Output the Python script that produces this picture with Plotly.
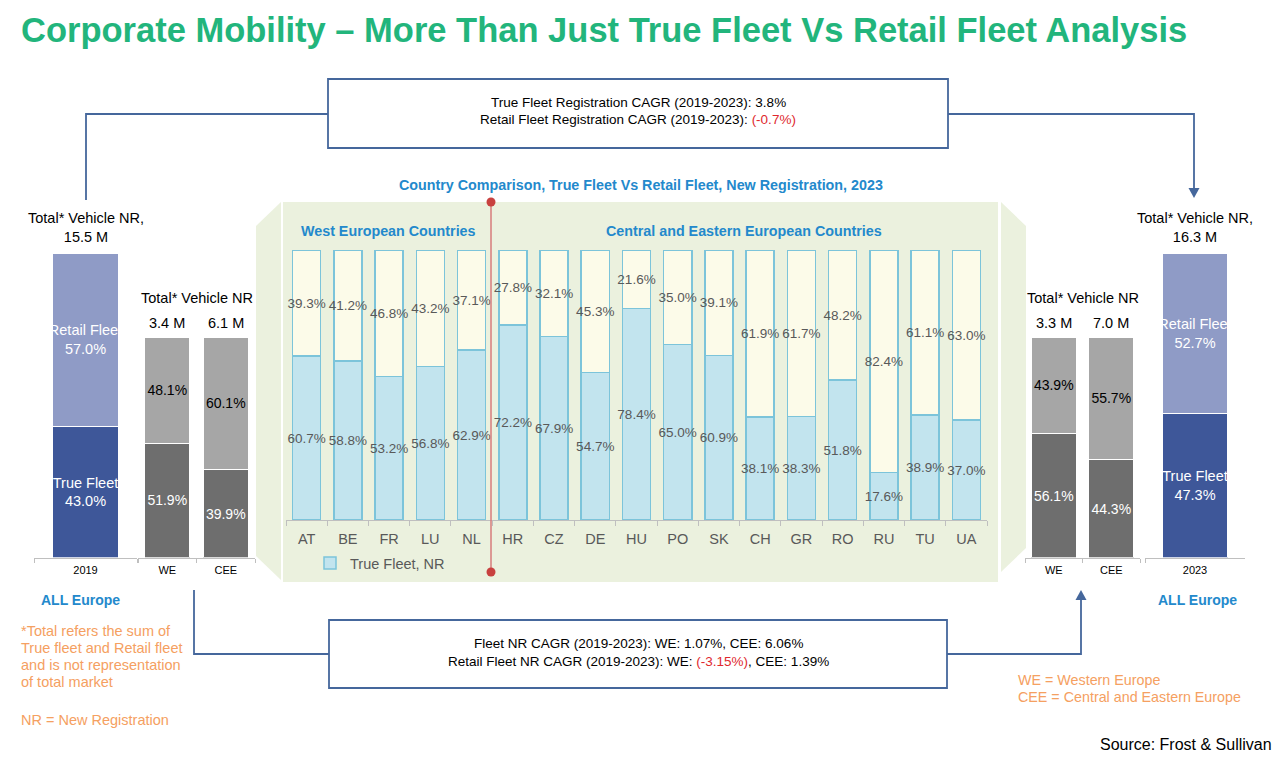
import plotly.graph_objects as go

# page offset: the browser body has an 8px margin, so the figure is drawn 8px in
OFF = 8
W, H = 1280 - OFF, 763 - OFF
def fx(p): return (p - OFF) / W
def fy(p): return 1 - (p - OFF) / H

# ---------------- data ----------------
countries = ["AT", "BE", "FR", "LU", "NL", "HR", "CZ", "DE", "HU", "PO", "SK",
             "CH", "GR", "RO", "RU", "TU", "UA"]
true_fleet_2023 = [60.7, 58.8, 53.2, 56.8, 62.9, 72.2, 67.9, 54.7, 78.4, 65.0, 60.9,
                   38.1, 38.3, 51.8, 17.6, 38.9, 37.0]
retail_fleet_2023 = [39.3, 41.2, 46.8, 43.2, 37.1, 27.8, 32.1, 45.3, 21.6, 35.0, 39.1,
                     61.9, 61.7, 48.2, 82.4, 61.1, 63.0]

europe_2019_cat = ["2019"]
europe_2019_true = [43.0]
europe_2019_retail = [57.0]
europe_2019_total = "15.5 M"

europe_2023_cat = ["2023"]
europe_2023_true = [47.3]
europe_2023_retail = [52.7]
europe_2023_total = "16.3 M"

regions = ["WE", "CEE"]
region_2019_true = [51.9, 39.9]
region_2019_retail = [48.1, 60.1]
region_2019_total = ["3.4 M", "6.1 M"]
region_2023_true = [56.1, 44.3]
region_2023_retail = [43.9, 55.7]
region_2023_total = ["3.3 M", "7.0 M"]

FONT = "Liberation Sans, Arial, sans-serif"
BLUE_TXT = "#2389cc"
ORANGE = "#f5a061"
LINE_BLUE = "#45679c"
GREEN_BG = "#ebf1de"
GRAY_AX = "#bfbfbf"

fig = go.Figure()

def pct(vals):
    return [f"{v:.1f}%" for v in vals]

common_bar = dict(textposition="inside", insidetextanchor="middle", constraintext="none",
                  textangle=0, hoverinfo="skip", cliponaxis=False)

# ---- 2019 all Europe ----
fig.add_trace(go.Bar(x=europe_2019_cat, y=europe_2019_true, width=0.64,
                     marker=dict(color="#3e5799", line=dict(color="white", width=1)),
                     text=[f"True Fleet<br>{v:.1f}%" for v in europe_2019_true],
                     textfont=dict(color="white", size=14.5, family=FONT),
                     xaxis="x", yaxis="y", showlegend=False, **common_bar))
fig.add_trace(go.Bar(x=europe_2019_cat, y=europe_2019_retail, width=0.64,
                     marker=dict(color="#8f9bc6", line=dict(color="white", width=1)),
                     text=[f"Retail Fleet<br>{v:.1f}%" for v in europe_2019_retail],
                     textfont=dict(color="white", size=14.5, family=FONT),
                     xaxis="x", yaxis="y", showlegend=False, **common_bar))

# ---- 2019 WE / CEE ----
fig.add_trace(go.Bar(x=regions, y=region_2019_true, width=0.77,
                     marker=dict(color="#6e6e6e", line=dict(color="white", width=1)),
                     text=pct(region_2019_true), textfont=dict(color="white", size=14, family=FONT),
                     xaxis="x2", yaxis="y2", showlegend=False, **common_bar))
fig.add_trace(go.Bar(x=regions, y=region_2019_retail, width=0.77,
                     marker=dict(color="#a6a6a6", line=dict(color="white", width=1)),
                     text=pct(region_2019_retail), textfont=dict(color="black", size=14, family=FONT),
                     xaxis="x2", yaxis="y2", showlegend=False, **common_bar))

# ---- country comparison ----
fig.add_trace(go.Bar(x=countries, y=true_fleet_2023, width=0.68, name="True Fleet, NR",
                     marker=dict(color="#c2e4ee", line=dict(color="#7cc4da", width=1.5)),
                     text=pct(true_fleet_2023), textfont=dict(color="#595959", size=13.5, family=FONT),
                     xaxis="x3", yaxis="y3", showlegend=True, **common_bar))
fig.add_trace(go.Bar(x=countries, y=retail_fleet_2023, width=0.68, name="Retail Fleet, NR",
                     marker=dict(color="#fcfbe9", line=dict(color="#7cc4da", width=1.5)),
                     text=pct(retail_fleet_2023), textfont=dict(color="#595959", size=13.5, family=FONT),
                     xaxis="x3", yaxis="y3", showlegend=False, **common_bar))

# ---- 2023 WE / CEE ----
fig.add_trace(go.Bar(x=regions, y=region_2023_true, width=0.78,
                     marker=dict(color="#6e6e6e", line=dict(color="white", width=1)),
                     text=pct(region_2023_true), textfont=dict(color="white", size=14, family=FONT),
                     xaxis="x4", yaxis="y4", showlegend=False, **common_bar))
fig.add_trace(go.Bar(x=regions, y=region_2023_retail, width=0.78,
                     marker=dict(color="#a6a6a6", line=dict(color="white", width=1)),
                     text=pct(region_2023_retail), textfont=dict(color="black", size=14, family=FONT),
                     xaxis="x4", yaxis="y4", showlegend=False, **common_bar))

# ---- 2023 all Europe ----
fig.add_trace(go.Bar(x=europe_2023_cat, y=europe_2023_true, width=0.65,
                     marker=dict(color="#3e5799", line=dict(color="white", width=1)),
                     text=[f"True Fleet<br>{v:.1f}%" for v in europe_2023_true],
                     textfont=dict(color="white", size=14.5, family=FONT),
                     xaxis="x5", yaxis="y5", showlegend=False, **common_bar))
fig.add_trace(go.Bar(x=europe_2023_cat, y=europe_2023_retail, width=0.65,
                     marker=dict(color="#8f9bc6", line=dict(color="white", width=1)),
                     text=[f"Retail Fleet<br>{v:.1f}%" for v in europe_2023_retail],
                     textfont=dict(color="white", size=14.5, family=FONT),
                     xaxis="x5", yaxis="y5", showlegend=False, **common_bar))

def xax(x0, x1, n, anchor, fsize, tcolor, ticklen=4, standoff=2):
    return dict(domain=[fx(x0), fx(x1)], anchor=anchor, type="category",
                range=[-0.5, n - 0.5], showline=True, linecolor=GRAY_AX, linewidth=1.2,
                ticks="outside", tickson="boundaries", ticklen=ticklen, tickcolor=GRAY_AX,
                ticklabelstandoff=standoff,
                showgrid=False, zeroline=False, fixedrange=True,
                tickfont=dict(size=fsize, color=tcolor, family=FONT))

def yax(ybot, ytop, anchor):
    return dict(domain=[fy(ybot), fy(ytop)], anchor=anchor, range=[0, 100], visible=False,
                showgrid=False, zeroline=False, fixedrange=True)

layout = dict(
    width=W, height=H, margin=dict(l=0, r=0, t=0, b=0),
    paper_bgcolor="white", plot_bgcolor="rgba(0,0,0,0)",
    barmode="stack", font=dict(family=FONT),
    xaxis=xax(34, 137, 1, "y", 11, "black"),
    yaxis=yax(557.5, 253, "x"),
    xaxis2=xax(138, 255, 2, "y2", 11, "black"),
    yaxis2=yax(557.5, 337, "x2"),
    xaxis3=xax(286, 987, 17, "y3", 14.5, "#595959", ticklen=5, standoff=5),
    yaxis3=yax(520, 250, "x3"),
    xaxis4=xax(1025, 1140, 2, "y4", 11, "black"),
    yaxis4=yax(557.5, 337, "x4"),
    xaxis5=xax(1145, 1245, 1, "y5", 11, "black"),
    yaxis5=yax(557.5, 253, "x5"),
    showlegend=True,
    legend=dict(x=fx(310), y=fy(563), xanchor="left", yanchor="middle",
                bgcolor="rgba(0,0,0,0)", font=dict(size=14.5, color="#595959", family=FONT),
                itemwidth=30),
)
fig.update_layout(**layout)

# ---------------- shapes ----------------
shapes = []
def path(pts):
    return "M " + " L ".join(f"{fx(x)},{fy(y)}" for x, y in pts) + " Z"
def open_path(pts):
    return "M " + " L ".join(f"{fx(x)},{fy(y)}" for x, y in pts)

shapes.append(dict(type="rect", xref="paper", yref="paper", x0=fx(283), x1=fx(998),
                   y0=fy(582), y1=fy(202), fillcolor=GREEN_BG, line=dict(width=0), layer="below"))
shapes.append(dict(type="path", xref="paper", yref="paper",
                   path=path([(256, 226), (281, 202), (281, 580), (256, 556)]),
                   fillcolor=GREEN_BG, line=dict(width=0), layer="below"))
shapes.append(dict(type="path", xref="paper", yref="paper",
                   path=path([(1001, 202), (1026, 226), (1026, 548), (1001, 572)]),
                   fillcolor=GREEN_BG, line=dict(width=0), layer="below"))
# red divider
shapes.append(dict(type="line", xref="paper", yref="paper", x0=fx(491), x1=fx(491),
                   y0=fy(202), y1=fy(572), line=dict(color="#d77b7b", width=1.5)))
for yy in (202, 572):
    shapes.append(dict(type="circle", xref="paper", yref="paper",
                       x0=fx(486.5), x1=fx(495.5), y0=fy(yy + 4.5), y1=fy(yy - 4.5),
                       fillcolor="#c8413f", line=dict(width=0)))
# boxes
for (x0, y0, x1, y1) in [(328, 79, 948, 148), (329, 620, 947, 688)]:
    shapes.append(dict(type="rect", xref="paper", yref="paper", x0=fx(x0), x1=fx(x1),
                       y0=fy(y1), y1=fy(y0), fillcolor="white",
                       line=dict(color=LINE_BLUE, width=1.8)))
# connectors
for pts in [[(328, 114), (86, 114), (86, 200)],
            [(948, 114), (1194, 114), (1194, 189)],
            [(194, 590), (194, 654), (329, 654)],
            [(947, 654), (1081, 654), (1081, 599)]]:
    shapes.append(dict(type="path", xref="paper", yref="paper", path=open_path(pts),
                       line=dict(color=LINE_BLUE, width=1.8)))
# arrowheads
shapes.append(dict(type="path", xref="paper", yref="paper",
                   path=path([(1188.5, 188), (1199.5, 188), (1194, 198)]),
                   fillcolor=LINE_BLUE, line=dict(width=0)))
shapes.append(dict(type="path", xref="paper", yref="paper",
                   path=path([(1075.5, 600), (1086.5, 600), (1081, 590)]),
                   fillcolor=LINE_BLUE, line=dict(width=0)))
fig.update_layout(shapes=shapes)

# ---------------- annotations ----------------
ann = []
def txt(text, x, y, size=14, color="black", bold=False, xanchor="center"):
    if bold:
        text = f"<b>{text}</b>"
    ann.append(dict(text=text, x=fx(x), y=fy(y), xref="paper", yref="paper",
                    xanchor=xanchor, yanchor="middle", showarrow=False,
                    font=dict(size=size, color=color, family=FONT)))

txt("Corporate Mobility \u2013 More Than Just True Fleet Vs Retail Fleet Analysis",
    19, 30, size=34.5, color="#22b57c", bold=True, xanchor="left")

txt("True Fleet Registration CAGR (2019-2023): 3.8%", 638, 102, size=13.5)
txt("Retail Fleet Registration CAGR (2019-2023): <span style='color:#e0282e'>(-0.7%)</span>",
    638, 119, size=13.5)
txt("Fleet NR CAGR (2019-2023): WE: 1.07%, CEE: 6.06%", 638, 643, size=13.5)
txt("Retail Fleet NR CAGR (2019-2023): WE: <span style='color:#e0282e'>(-3.15%)</span>, CEE: 1.39%",
    638, 661, size=13.5)

txt("Country Comparison, True Fleet Vs Retail Fleet, New Registration, 2023",
    641, 185, size=14.3, color=BLUE_TXT, bold=True)
txt("West European Countries", 388, 231, size=14.3, color=BLUE_TXT, bold=True)
txt("Central and Eastern European Countries", 744, 231, size=14.3, color=BLUE_TXT, bold=True)

# totals above bars
for xa, total in (("x", europe_2019_total), ("x5", europe_2023_total)):
    ann.append(dict(text=f"Total* Vehicle NR,<br>{total}", x=0.5, xref=f"{xa} domain",
                    y=fy(227), yref="paper", showarrow=False, yanchor="middle",
                    font=dict(size=14.5, color="black", family=FONT)))
for xa in ("x2", "x4"):
    ann.append(dict(text="Total* Vehicle NR", x=0.5, xref=f"{xa} domain", y=fy(298), yref="paper",
                    showarrow=False, yanchor="middle", font=dict(size=14.5, color="black", family=FONT)))
for r, t in zip(regions, region_2019_total):
    ann.append(dict(text=t, x=r, xref="x2", y=fy(323), yref="paper", showarrow=False,
                    yanchor="middle", font=dict(size=14.5, color="black", family=FONT)))
for r, t in zip(regions, region_2023_total):
    ann.append(dict(text=t, x=r, xref="x4", y=fy(323), yref="paper", showarrow=False,
                    yanchor="middle", font=dict(size=14.5, color="black", family=FONT)))

txt("ALL Europe", 80, 600, size=14, color=BLUE_TXT, bold=True)
txt("ALL Europe", 1197, 600, size=14, color=BLUE_TXT, bold=True)

for i, line in enumerate(["*Total refers the sum of", "True fleet and Retail fleet",
                          "and is not representation", "of total market"]):
    txt(line, 19, 631 + 17 * i, size=14.5, color=ORANGE, xanchor="left")
txt("NR = New Registration", 19, 720, size=14.5, color=ORANGE, xanchor="left")
txt("WE = Western Europe", 1016, 680, size=14.3, color=ORANGE, xanchor="left")
txt("CEE = Central and Eastern Europe", 1016, 697, size=14.3, color=ORANGE, xanchor="left")
txt("Source: Frost &amp; Sullivan", 1274, 744, size=16, color="black", xanchor="right")

fig.update_layout(annotations=ann)

fig.write_html("out.html")
